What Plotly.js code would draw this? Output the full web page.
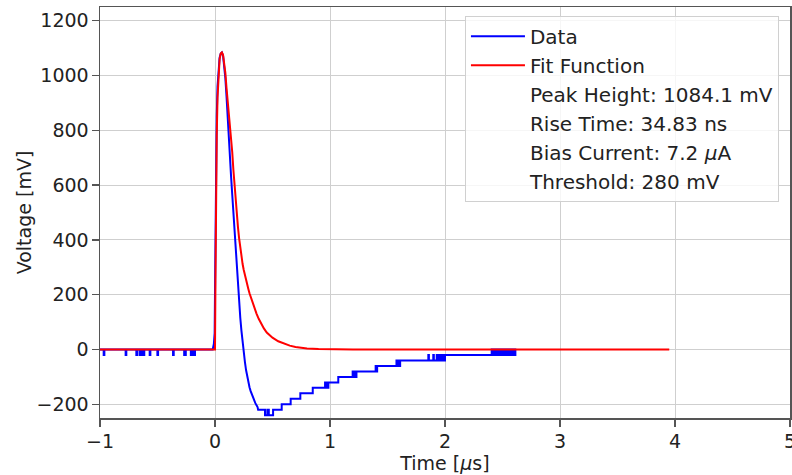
<!DOCTYPE html>
<html>
<head>
<meta charset="utf-8">
<script src="https://cdn.plot.ly/plotly-3.0.1.min.js"></script>
<style>html,body{margin:0;padding:0;background:#fff;}#chart{width:792px;height:475px;}</style>
</head>
<body>
<div id="chart"></div>
<script>
// Measured signal (time in microseconds, voltage in mV)
const dataT = [
  -1.0,
  -0.968,-0.968,-0.962,-0.962,
  -0.777,-0.777,-0.771,-0.771,
  -0.684,-0.684,-0.674,-0.674,
  -0.652,-0.652,-0.645,-0.645,-0.640,-0.640,-0.632,-0.632,-0.628,-0.628,-0.615,-0.615,
  -0.568,-0.568,-0.562,-0.562,
  -0.501,-0.501,-0.495,-0.495,
  -0.365,-0.365,-0.359,-0.359,
  -0.268,-0.268,-0.262,-0.262,-0.259,-0.259,-0.254,-0.254,
  -0.210,-0.210,-0.203,-0.203,-0.198,-0.198,-0.190,-0.190,-0.186,-0.186,-0.174,-0.174,
  -0.020,-0.010,-0.003,0.002,0.008,0.015,0.022,0.030,0.040,0.050,0.060,
  0.070,0.080,0.090,0.100,0.110,0.120,0.130,0.140,0.150,0.160,0.170,0.180,0.190,0.200,
  0.210,0.220,0.230,0.240,0.250,0.260,0.270,0.280,0.290,0.300,0.310,0.320,0.330,0.340,
  0.350,0.360,0.370,0.375,
  0.435,0.435,0.455,0.455,0.468,0.468,0.505,0.505,
  0.580,0.580,0.658,0.658,0.742,0.742,0.850,0.850,
  0.957,0.957,0.965,0.965,0.972,0.972,0.980,0.980,0.986,0.986,
  1.072,1.072,
  1.197,1.197,1.205,1.205,1.212,1.212,1.222,1.222,1.230,1.230,
  1.397,1.397,1.404,1.404,1.410,1.410,
  1.578,1.578,1.585,1.585,1.592,1.592,1.600,1.600,1.610,1.610,
  1.855,1.855,1.860,1.860,1.898,1.898,1.903,1.903,1.928,1.928,1.940,1.940,1.950,1.950,1.962,1.962,1.972,1.972,1.985,1.985,2.000,2.000,
  2.406,2.406,2.418,2.418,2.430,2.430,2.440,2.440,2.452,2.452,2.462,2.462,2.475,2.475,2.485,2.485,2.497,2.497,2.508,2.508,
  2.520,2.520,2.531,2.531,2.543,2.543,2.554,2.554,2.566,2.566,2.577,2.577,2.589,2.589,2.600,2.600,2.612,2.612,2.620
];
const dataV = [
  0,
  0,-20,-20,0,
  0,-20,-20,0,
  0,-20,-20,0,
  0,-20,-20,0,0,-20,-20,0,0,-20,-20,0,
  0,-20,-20,0,
  0,-20,-20,0,
  0,-20,-20,0,
  0,-20,-20,0,0,-20,-20,0,
  0,-20,-20,0,0,-20,-20,0,0,-20,-20,0,
  0,20,60,300,650,850,960,1030,1065,1080,1084,
  1072,1040,990,925,840,770,700,630,565,495,425,355,290,225,
  168,115,68,25,-12,-45,-75,-100,-122,-138,-152,-164,-176,-186,
  -195,-203,-210,-220,
  -220,-240,-240,-220,-220,-240,-240,-220,
  -220,-200,-200,-180,-180,-160,-160,-140,
  -140,-120,-120,-140,-140,-120,-120,-140,-140,-120,
  -120,-100,
  -100,-80,-80,-100,-100,-80,-80,-100,-100,-80,
  -80,-60,-60,-80,-80,-60,
  -60,-40,-40,-60,-60,-40,-40,-60,-60,-40,
  -40,-20,-20,-40,-40,-20,-20,-40,-40,-20,-20,-40,-40,-20,-20,-40,-40,-20,-20,-40,-40,-20,
  -20,0,0,-20,-20,0,0,-20,-20,0,0,-20,-20,0,0,-20,-20,0,0,-20,
  -20,0,0,-20,-20,0,0,-20,-20,0,0,-20,-20,0,0,-20,-20,0,0,-20,-20,0
];

// Fit function samples
const fitT = [-1.0,0.0,0.004,0.009,0.015,0.022,0.030,0.040,0.050,0.060,0.070,0.080,0.090,0.100,
  0.110,0.120,0.130,0.140,0.150,0.160,0.170,0.180,0.190,0.200,0.210,0.220,0.230,0.240,0.250,
  0.260,0.270,0.280,0.290,0.300,0.315,0.330,0.345,0.360,0.380,0.400,0.425,0.450,0.475,0.500,
  0.550,0.600,0.650,0.700,0.750,0.800,0.900,1.000,1.200,1.500,2.000,3.000,3.950];
const fitV = [0,0,250,550,780,920,1010,1060,1080,1084,1076,1050,1010,955,
  912,870,825,780,720,655,595,540,490,445,405,368,338,312,290,
  270,253,238,221,205,185,165,148,132,112,95,77,62,52,43,
  30,21,14,9,6,4,2,1,0.3,0,0,0,0];

const seriesNames = ["Data", "Fit Function"];
const infoLabels = ["Peak Height: 1084.1 mV", "Rise Time: 34.83 ns",
  "Bias Current: 7.2 <i>μ</i>A", "Threshold: 280 mV"];
const xTicks = [-1, 0, 1, 2, 3, 4, 5];
const yTicks = [-200, 0, 200, 400, 600, 800, 1000, 1200];

const FONT = "DejaVu Sans, sans-serif";
const traces = [
  {x: dataT, y: dataV, mode: "lines", name: seriesNames[0], line: {color: "#0000ff", width: 2}},
  {x: fitT, y: fitV, mode: "lines", name: seriesNames[1], line: {color: "#ff0000", width: 2}}
];
infoLabels.forEach(function (t) {
  traces.push({x: [null], y: [null], mode: "lines", name: t, line: {color: "rgba(0,0,0,0)", width: 0}, hoverinfo: "skip"});
});

const axisCommon = {
  showline: true, mirror: true, linecolor: "#555", linewidth: 1.5,
  ticks: "outside", ticklen: 7, tickwidth: 1.5, tickcolor: "#555",
  showgrid: true, gridcolor: "#cfcfcf", gridwidth: 1, zeroline: false,
  ticklabelstandoff: -1, ticklabeloverflow: "allow",
  tickfont: {family: FONT, size: 19, color: "#222"}
};

const layout = {
  width: 792, height: 475,
  margin: {l: 100, r: 2, t: 7, b: 57},
  paper_bgcolor: "#fff", plot_bgcolor: "#fff",
  font: {family: FONT, size: 19, color: "#222"},
  showlegend: true,
  legend: {
    x: 0.984, y: 0.979, xanchor: "right", yanchor: "top",
    bgcolor: "rgba(255,255,255,0.8)", bordercolor: "#d0d0d0", borderwidth: 1,
    font: {family: FONT, size: 20, color: "#222"}, itemwidth: 54
  },
  xaxis: Object.assign({}, axisCommon, {
    range: [-1, 5], tickmode: "array", tickvals: xTicks,
    ticktext: xTicks.map(function (v) { return v < 0 ? "\u2212" + Math.abs(v) : String(v); }),
    title: {text: "Time [<i>μ</i>s]", font: {family: FONT, size: 19, color: "#222"}, standoff: 2}
  }),
  yaxis: Object.assign({}, axisCommon, {
    range: [-250, 1250], tickmode: "array", tickvals: yTicks,
    ticktext: yTicks.map(function (v) { return v < 0 ? "\u2212" + Math.abs(v) : String(v); }),
    title: {text: "Voltage [mV]", font: {family: FONT, size: 19, color: "#222"}, standoff: 0}
  })
};

Plotly.newPlot("chart", traces, layout, {displayModeBar: false, staticPlot: true});
</script>
</body>
</html>
